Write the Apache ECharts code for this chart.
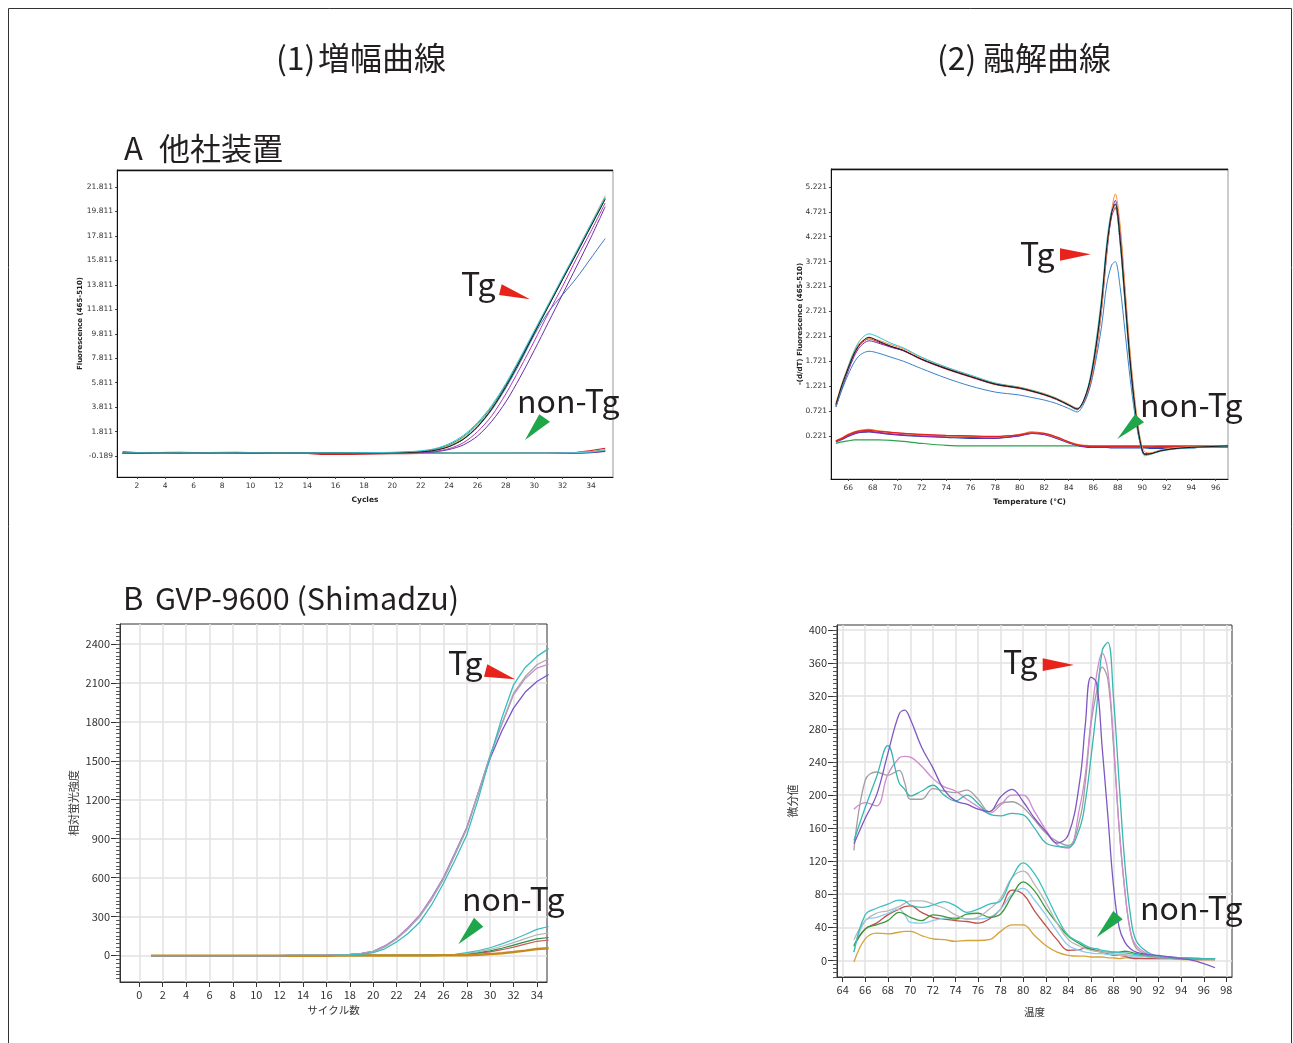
<!DOCTYPE html>
<html><head><meta charset="utf-8">
<script src="https://cdn.jsdelivr.net/npm/echarts@6/dist/echarts.min.js"></script>
<style>html,body{margin:0;padding:0;background:#fff}#c{width:1293px;height:1043px}</style>
</head><body><div id="c"></div>
<script>
// ---------- (1)-A amplification, other instrument ----------
const tlCycles = [1,2,3,4,5,6,7,8,9,10,11,12,13,14,15,16,17,18,19,20,21,22,23,24,25,26,27,28,29,30,31,32,33,34,35];
const tlXTicks = [2,4,6,8,10,12,14,16,18,20,22,24,26,28,30,32,34];
const tlYTicks = [-0.189,1.811,3.811,5.811,7.811,9.811,11.811,13.811,15.811,17.811,19.811,21.811];
const tlTgBlack   = [0.05,0.04,0.05,0.05,0.04,0.05,0.05,0.04,0.05,0.05,0.05,0.04,0.05,0.05,0.05,0.05,0.06,0.06,0.07,0.08,0.10,0.15,0.28,0.58,1.18,2.20,3.65,5.50,7.60,9.85,12.05,14.25,16.40,18.60,20.80];
const tlTgCyan    = [0.06,0.07,0.06,0.05,0.06,0.05,0.06,0.05,0.06,0.07,0.06,0.05,0.06,0.06,0.07,0.07,0.08,0.09,0.10,0.12,0.16,0.24,0.42,0.82,1.50,2.55,3.95,5.75,7.85,10.05,12.25,14.45,16.60,18.80,21.00];
const tlTgTeal    = [0.04,0.05,0.04,0.05,0.05,0.04,0.05,0.05,0.05,0.04,0.05,0.05,0.04,0.05,0.06,0.06,0.07,0.07,0.08,0.10,0.14,0.21,0.38,0.75,1.40,2.45,3.85,5.65,7.75,9.95,12.15,14.35,16.50,18.70,20.90];
const tlTgOrange  = [0.03,0.04,0.03,0.04,0.04,0.03,0.04,0.04,0.03,0.04,0.04,0.04,0.03,0.04,0.04,0.05,0.05,0.06,0.07,0.09,0.12,0.19,0.34,0.68,1.32,2.35,3.78,5.60,7.70,9.90,12.10,14.30,16.55,18.80,21.10];
const tlTgMagenta = [0.05,0.05,0.04,0.05,0.05,0.05,0.04,0.05,0.05,0.05,0.04,0.05,0.05,0.05,0.05,0.05,0.05,0.06,0.06,0.07,0.08,0.11,0.20,0.42,0.90,1.80,3.10,4.90,7.00,9.20,11.50,13.70,16.00,18.20,20.50];
const tlTgPurple  = [0.04,0.04,0.05,0.04,0.04,0.04,0.05,0.04,0.04,0.04,0.04,0.05,0.04,0.04,0.04,0.04,0.05,0.05,0.06,0.07,0.07,0.09,0.16,0.35,0.72,1.45,2.65,4.25,6.25,8.45,10.75,13.05,15.35,17.70,20.20];
const tlTgGreen   = [0.05,0.06,0.05,0.05,0.06,0.05,0.05,0.06,0.05,0.05,0.06,0.05,0.05,0.06,0.05,0.06,0.06,0.07,0.08,0.09,0.11,0.17,0.31,0.62,1.22,2.25,3.70,5.55,7.65,9.90,12.10,14.30,16.45,18.65,20.85];
const tlTgBlue    = [0.05,0.05,0.05,0.04,0.05,0.05,0.05,0.05,0.04,0.05,0.05,0.05,0.05,0.04,0.05,0.05,0.06,0.07,0.07,0.09,0.11,0.17,0.32,0.62,1.18,2.18,3.58,5.38,7.45,9.70,11.60,13.00,14.40,16.00,17.60];
const tlNonRed     = [0.02,0.03,0.02,0.02,0.03,0.02,0.02,0.03,0.02,0.02,0.02,0.03,0.02,0.02,-0.05,-0.06,-0.05,-0.04,-0.02,0.00,0.01,0.02,0.02,0.02,0.03,0.03,0.03,0.03,0.04,0.04,0.05,0.07,0.12,0.25,0.45];
const tlNonOrange  = [0.08,0.09,0.08,0.07,0.08,0.08,0.07,0.08,0.08,0.07,0.07,0.08,0.07,0.07,0.07,0.06,0.06,0.07,0.06,0.06,0.06,0.06,0.05,0.05,0.05,0.05,0.05,0.05,0.05,0.06,0.06,0.07,0.10,0.18,0.35];
const tlNonGreen   = [0.18,0.10,0.07,0.06,0.06,0.07,0.08,0.07,0.06,0.06,0.09,0.10,0.10,0.09,0.08,0.10,0.10,0.09,0.08,0.07,0.07,0.08,0.07,0.06,0.05,0.05,0.05,0.05,0.05,0.05,0.05,0.06,0.08,0.14,0.28];
const tlNonMagenta = [0.04,0.04,0.05,0.05,0.06,0.08,0.10,0.08,0.06,0.05,0.05,0.05,0.05,0.05,0.05,0.05,0.04,0.04,0.04,0.04,0.03,0.03,0.03,0.02,0.02,0.02,0.02,0.02,0.03,0.03,0.03,0.04,0.06,0.10,0.20];
const tlNonBlue    = [0.04,0.05,0.05,0.10,0.05,0.02,0.03,0.04,0.04,0.04,0.04,0.04,0.04,0.04,0.03,0.03,0.03,0.03,0.04,0.04,0.04,0.04,0.03,0.03,0.03,0.03,0.03,0.03,0.03,0.04,0.04,0.05,0.07,0.12,0.22];
const tlNonCyan    = [0.06,0.06,0.06,0.12,0.14,0.10,0.09,0.12,0.14,0.09,0.07,0.06,0.06,0.06,0.06,0.06,0.06,0.06,0.06,0.06,0.06,0.06,0.05,0.05,0.05,0.05,0.05,0.05,0.05,0.05,0.06,0.07,0.09,0.15,0.30];

// ---------- (2)-A melting, other instrument ----------
const trTemps  = [65,65.5,66,66.5,67,67.7,68.5,69.5,70.5,72,74,76,78,80,81,82,83,84,84.7,85.3,85.8,86.3,86.7,87.1,87.5,87.8,88.2,88.6,89,89.4,89.8,90.2,90.7,91.5,92.5,94,95,96,97];
const trXTicks = [66,68,70,72,74,76,78,80,82,84,86,88,90,92,94,96];
const trYTicks = [0.221,0.721,1.221,1.721,2.221,2.721,3.221,3.721,4.221,4.721,5.221];
const trTgBlack  = [0.85,1.25,1.58,1.88,2.08,2.20,2.12,2.02,1.94,1.76,1.57,1.41,1.26,1.18,1.12,1.05,0.96,0.84,0.76,0.98,1.40,2.15,2.95,4.00,4.70,4.88,4.15,2.95,1.75,0.80,0.15,-0.15,-0.14,-0.08,-0.04,-0.01,0.00,0.01,0.02];
const trTgOrange = [0.88,1.28,1.62,1.92,2.10,2.18,2.14,2.05,1.97,1.79,1.60,1.43,1.28,1.20,1.14,1.07,0.98,0.86,0.78,0.95,1.32,2.02,2.80,3.90,4.75,5.08,4.45,3.20,1.95,0.95,0.22,-0.10,-0.12,-0.06,-0.02,0.00,0.01,0.02,0.03];
const trTgCyan   = [0.82,1.22,1.60,1.93,2.15,2.27,2.20,2.08,1.99,1.80,1.60,1.44,1.28,1.19,1.13,1.06,0.97,0.83,0.74,0.99,1.45,2.25,3.05,4.10,4.75,4.82,4.05,2.85,1.65,0.72,0.10,-0.18,-0.15,-0.09,-0.05,-0.02,-0.01,0.00,0.01];
const trTgPurple = [0.80,1.18,1.52,1.82,2.02,2.13,2.08,2.00,1.93,1.76,1.58,1.42,1.27,1.19,1.13,1.06,0.97,0.85,0.77,0.93,1.30,2.00,2.80,3.85,4.70,4.95,4.35,3.10,1.85,0.88,0.18,-0.14,-0.13,-0.07,-0.03,-0.01,0.00,0.01,0.02];
const trTgRed    = [0.84,1.24,1.57,1.86,2.06,2.17,2.10,2.01,1.93,1.75,1.56,1.40,1.25,1.17,1.11,1.04,0.95,0.83,0.75,0.96,1.38,2.10,2.90,3.95,4.62,4.80,4.10,2.90,1.70,0.78,0.14,-0.15,-0.14,-0.08,-0.04,-0.01,0.00,0.01,0.02];
const trTgSteel  = [0.80,1.15,1.45,1.70,1.85,1.92,1.88,1.80,1.72,1.57,1.38,1.22,1.10,1.04,0.99,0.94,0.87,0.77,0.70,0.90,1.25,1.85,2.45,3.25,3.65,3.72,3.20,2.30,1.40,0.65,0.10,-0.14,-0.13,-0.08,-0.04,-0.01,0.00,0.01,0.02];
const trNonRed    = [0.12,0.17,0.24,0.29,0.32,0.33,0.31,0.29,0.27,0.25,0.23,0.22,0.21,0.24,0.28,0.27,0.20,0.10,0.04,0.02,0.01,0.01,0.01,0.01,0.01,0.01,0.01,0.01,0.01,0.01,0.01,0.00,0.00,0.01,0.01,0.01,0.01,0.01,0.01];
const trNonBlue   = [0.10,0.15,0.21,0.26,0.29,0.30,0.28,0.25,0.23,0.21,0.19,0.17,0.17,0.22,0.27,0.25,0.17,0.08,0.03,0.00,-0.01,-0.01,-0.01,-0.01,-0.02,-0.02,-0.02,-0.02,-0.02,-0.02,-0.02,-0.02,-0.03,-0.03,-0.02,-0.02,0.00,0.00,0.00];
const trNonPurple = [0.11,0.16,0.22,0.27,0.30,0.31,0.29,0.26,0.24,0.22,0.20,0.19,0.18,0.23,0.27,0.25,0.18,0.09,0.03,0.01,0.00,0.00,0.00,0.00,0.00,0.00,0.00,0.00,0.00,0.00,0.00,-0.01,-0.01,-0.01,0.00,0.00,0.00,0.00,0.00];
const trNonOrange = [0.12,0.18,0.25,0.30,0.33,0.35,0.32,0.29,0.27,0.24,0.22,0.21,0.20,0.25,0.30,0.27,0.19,0.10,0.05,0.03,0.02,0.02,0.02,0.02,0.02,0.02,0.02,0.02,0.02,0.02,0.02,0.02,0.02,0.02,0.02,0.02,0.02,0.02,0.02];
const trNonGreen  = [0.07,0.10,0.12,0.14,0.14,0.14,0.14,0.13,0.11,0.07,0.03,0.02,0.02,0.02,0.02,0.02,0.02,0.02,0.02,0.02,0.02,0.02,0.02,0.02,0.02,0.02,0.02,0.02,0.02,0.02,0.02,0.02,0.02,0.02,0.02,0.02,0.02,0.02,0.02];

// ---------- (1)-B amplification, GVP-9600 ----------
const blCycles = [1,2,3,4,5,6,7,8,9,10,11,12,13,14,15,16,17,18,19,20,21,22,23,24,25,26,27,28,29,30,31,32,33,34,35];
const blXTicks = [0,2,4,6,8,10,12,14,16,18,20,22,24,26,28,30,32,34];
const blYTicks = [0,300,600,900,1200,1500,1800,2100,2400];
const blTgCyan   = [-2,-2,-2,-2,-2,-2,-2,-2,-2,-2,-2,-2,-1,-1,-1,0,1,3,8,20,50,103,170,257,390,554,735,927,1210,1530,1830,2086,2220,2305,2365];
const blTgGray   = [-2,-2,-2,-2,-2,-2,-2,-2,-2,-2,-2,-2,-1,-1,0,1,3,6,13,28,65,125,205,300,430,585,775,975,1255,1540,1785,2022,2150,2241,2287];
const blTgPink   = [-2,-2,-2,-2,-2,-2,-2,-2,-2,-2,-2,-2,-1,-1,0,1,3,7,14,30,70,130,212,309,440,593,785,979,1262,1545,1780,2009,2135,2215,2245];
const blTgPurple = [-2,-2,-2,-2,-2,-2,-2,-2,-2,-2,-2,-2,-1,-1,0,1,3,7,15,31,72,132,215,312,445,597,790,985,1255,1520,1730,1906,2030,2112,2166];
const blNonCyan  = [-2,-2,-2,-2,-2,-2,-2,-2,-2,-2,-2,-2,-2,-2,-2,-2,-1,-1,-1,0,0,0,1,1,2,4,8,20,37,58,88,122,160,200,222];
const blNonGray  = [-2,-2,-2,-2,-2,-2,-2,-2,-2,-2,-2,-2,-2,-2,-2,-2,-1,-1,-1,0,0,0,0,1,1,2,5,14,28,45,70,98,128,158,172];
const blNonGreen = [-2,-2,-2,-2,-2,-2,-2,-2,-2,-2,-2,-2,-2,-2,-2,-2,-1,-1,-1,0,0,0,0,0,1,1,3,10,20,34,54,78,103,126,137];
const blNonRed   = [-2,-2,-2,-2,-2,-2,-2,-2,-2,-2,-2,-2,-2,-2,-2,-2,-1,-1,-1,0,0,0,0,0,1,1,3,8,16,27,43,63,86,108,118];
const blNonGold  = [-3,-3,-3,-3,-3,-3,-3,-3,-3,-3,-3,-3,-3,-3,-3,-3,-2,-2,-2,-2,-2,-1,-1,-1,-1,0,0,1,4,9,16,25,36,48,54];

// ---------- (2)-B melting, GVP-9600 ----------
const brTemps  = [65,66,67,68,69,69.5,70,71,72,73,74,75,76,77,78,79,80,81,82,83,84,85,85.5,86,86.5,87,87.5,88,88.5,89,89.5,90,91,92,93,94,95,96,97];
const brXTicks = [64,66,68,70,72,74,76,78,80,82,84,86,88,90,92,94,96,98];
const brYTicks = [0,40,80,120,160,200,240,280,320,360,400];
const brTgPurple = [141,172,200,250,298,303,292,258,233,206,193,189,183,180,198,207,192,172,156,142,152,216,285,343,336,257,175,90,40,22,14,10,7,6,4,2,0,-4,-9];
const brTgTeal   = [145,185,222,260,215,207,199,205,212,200,193,200,190,177,175,178,176,160,142,138,137,160,192,245,305,375,385,318,215,118,55,24,10,5,3,3,2,2,2];
const brTgPink   = [183,191,187,225,245,247,246,235,220,210,205,195,186,178,188,200,200,180,158,140,136,185,225,290,345,372,350,265,160,85,35,18,8,5,4,3,2,2,2];
const brTgGray   = [133,218,228,224,230,215,195,195,208,205,203,206,195,180,190,192,185,170,154,144,139,170,215,285,325,355,340,260,160,85,35,15,7,4,3,2,2,2,1];
const brNonCyan  = [10,55,63,68,73,72,67,64,67,71,66,58,62,68,72,100,118,105,80,52,30,22,18,15,14,12,11,10,9,9,8,7,5,4,4,3,3,2,2];
const brNonGray  = [25,48,57,60,65,69,72,72,68,63,55,50,52,62,75,100,108,92,70,45,25,17,14,12,11,10,9,8,7,7,6,6,5,4,3,3,2,2,2];
const brNonLBlue = [10,48,52,57,62,55,46,45,48,51,52,50,50,52,62,80,87,73,55,35,18,12,10,9,8,8,7,7,6,6,5,5,4,3,3,2,2,2,1];
const brNonRed   = [17,38,45,55,62,65,66,58,52,50,48,47,45,50,62,85,80,60,42,25,12,13,15,14,12,10,8,6,6,5,3,2,2,2,2,2,1,1,1];
const brNonGreen = [18,38,43,48,58,56,52,48,55,53,50,56,57,52,56,78,95,84,63,45,29,20,16,13,11,10,10,10,10,11,10,8,6,4,3,3,2,2,2];
const brNonGold  = [-2,26,33,32,34,35,35,30,26,25,23,24,24,25,35,43,43,30,18,10,6,5,5,4,4,4,3,3,2,3,3,3,2,2,2,1,1,1,1];

// ---------- helpers ----------
function pts(xs, ys){ return xs.map((x,i)=>[x, ys[i]]); }
function line(grid, xs, ys, color, width, smooth){
  return {type:'line', xAxisIndex:grid, yAxisIndex:grid, data:pts(xs,ys), symbol:'none', showSymbol:false,
    smooth: smooth||false, lineStyle:{color:color, width:width||1}, itemStyle:{color:color},
    silent:true, animation:false, emphasis:{disabled:true}};
}
function minorVals(a, b, step){ const r=[]; for(let v=a; v<=b+1e-9; v+=step) r.push(Math.round(v*1000)/1000); return r; }

const fTop = 'DejaVu Sans';
const fBot = '"Noto Sans CJK JP", "Noto Sans", sans-serif';
const fJP = '"Noto Sans CJK JP"';
const darkTxt = '#231f20';

function topX(grid, min, max, ticks, name){
  return {gridIndex:grid, type:'value', min:min, max:max,
    axisLine:{onZero:false, lineStyle:{color:'#111', width:1}},
    axisTick:{show:true, customValues:ticks, length:2, lineStyle:{color:'#444'}},
    axisLabel:{customValues:ticks, fontSize:7.5, color:'#333', margin:5, fontFamily:fTop, formatter:v=>String(v)},
    splitLine:{show:false},
    name:name, nameLocation:'middle', nameGap:19, nameMoveOverlap:false,
    nameTextStyle:{fontSize:7.5, fontWeight:'bold', color:'#222', fontFamily:fTop}};
}
function topY(grid, min, max, ticks, name, gap){
  return {gridIndex:grid, type:'value', min:min, max:max,
    axisLine:{onZero:false, show:true, lineStyle:{color:'#111', width:1}},
    axisTick:{show:true, customValues:ticks, length:2, lineStyle:{color:'#444'}},
    axisLabel:{customValues:ticks, fontSize:7.5, color:'#333', margin:4, fontFamily:fTop, formatter:v=>v.toFixed(3)},
    splitLine:{show:false},
    name:name, nameLocation:'middle', nameGap:gap, nameRotate:90, nameMoveOverlap:false,
    nameTextStyle:{fontSize:7, fontWeight:'bold', color:'#222', fontFamily:fTop}};
}
function botX(grid, min, max, ticks, name, gap){
  return {gridIndex:grid, type:'value', min:min, max:max,
    axisLine:{onZero:false, lineStyle:{color:'#333', width:1}},
    axisTick:{show:true, customValues:ticks, length:5, lineStyle:{color:'#333'}},
    axisLabel:{customValues:ticks, fontSize:11, color:'#333', margin:7, fontFamily:fBot, formatter:v=>String(v)},
    splitLine:{show:true, lineStyle:{color:'#e2e2e2', width:1.5}},
    name:name, nameLocation:'middle', nameGap:gap, nameMoveOverlap:false,
    nameTextStyle:{fontSize:10.5, color:'#333', fontFamily:fJP}};
}
function botY(grid, min, max, ticks, name, gap){
  return {gridIndex:grid, type:'value', min:min, max:max,
    axisLine:{onZero:false, show:true, lineStyle:{color:'#333', width:1}},
    axisTick:{show:true, customValues:ticks, length:9, lineStyle:{color:'#333'}},
    axisLabel:{customValues:ticks, fontSize:11, color:'#333', margin:10, fontFamily:fBot, formatter:v=>String(v), verticalAlign:'middle', padding:[0,0,3,0]},
    splitLine:{show:true, lineStyle:{color:'#e2e2e2', width:1.5}},
    name:name, nameLocation:'middle', nameGap:gap, nameRotate:90, nameMoveOverlap:false,
    nameTextStyle:{fontSize:11, color:'#333', fontFamily:fJP}};
}
function minorY(grid, min, max, vals){
  return {gridIndex:grid, type:'value', min:min, max:max, position:'left',
    axisLine:{show:false, onZero:false}, axisLabel:{show:false}, splitLine:{show:false},
    axisTick:{show:true, customValues:vals, length:4, lineStyle:{color:'#555'}}};
}

const series = [];
// TL
[[tlNonRed,'#d42020'],[tlNonOrange,'#f29a3a'],[tlNonGreen,'#2ea04e'],[tlNonMagenta,'#b02a86'],[tlNonBlue,'#2a4fc0'],[tlNonCyan,'#5cc6d6']]
  .forEach(a=>series.push(line(0, tlCycles, a[0], a[1], 1.2)));
[[tlTgBlue,'#3a78c4'],[tlTgPurple,'#6a2ca8'],[tlTgMagenta,'#b43cb0'],[tlTgGreen,'#2e9e62'],[tlTgOrange,'#f0a24a'],[tlTgTeal,'#1f9c92'],[tlTgBlack,'#1a1a1a'],[tlTgCyan,'#3cc4d4']]
  .forEach(a=>series.push(line(0, tlCycles, a[0], a[1], 1, 0.3)));
// TR
[[trNonGreen,'#2aa34a'],[trNonBlue,'#2340c0'],[trNonPurple,'#a02aa0'],[trNonOrange,'#f07822'],[trNonRed,'#e02424']]
  .forEach(a=>series.push(line(1, trTemps, a[0], a[1], 1.2, 0.3)));
[[trTgSteel,'#3a82c8'],[trTgRed,'#d02030'],[trTgPurple,'#7a2aa8'],[trTgOrange,'#f39448'],[trTgCyan,'#36c2c8'],[trTgBlack,'#151515']]
  .forEach(a=>series.push(line(1, trTemps, a[0], a[1], 1, 0.3)));
// BL
[[blNonRed,'#cc5a5a',1.2],[blNonGreen,'#2f8f46',1.2],[blNonGray,'#b4b4b4',1.2],[blNonCyan,'#3cbcc0',1.2],[blNonGold,'#c48a1c',2.5]]
  .forEach(a=>series.push(line(2, blCycles, a[0], a[1], a[2])));
[[blTgPurple,'#7b55c9'],[blTgPink,'#c98ad6'],[blTgGray,'#a8a8a8'],[blTgCyan,'#3bbcc0']]
  .forEach(a=>series.push(line(2, blCycles, a[0], a[1], 1.3)));
// BR
[[brNonGold,'#d4a33a'],[brNonRed,'#c0504d'],[brNonLBlue,'#8ccaf2'],[brNonGreen,'#3a9a3a'],[brNonGray,'#b8b8b8'],[brNonCyan,'#3cc0c0']]
  .forEach(a=>series.push(line(3, brTemps, a[0], a[1], 1.3, 0.4)));
[[brTgGray,'#a0a0a0'],[brTgPink,'#d08ad0'],[brTgTeal,'#3ab7b0'],[brTgPurple,'#7e57c2']]
  .forEach(a=>series.push(line(3, brTemps, a[0], a[1], 1.3, 0.4)));

function txt(x, y, s, size, align){
  return {type:'text', x:x, y:y, z:100, style:{text:s, font:size+'px '+fJP, fill:darkTxt, textAlign:align||'left', textVerticalAlign:'middle'}};
}
function tri(p, color){ return {type:'polygon', z:100, shape:{points:p}, style:{fill:color}}; }
const RED = '#e8231c', GRN = '#1fa64a';

const option = {
  backgroundColor:'#fff',
  animation:false,
  grid:[
    {left:117, top:170, width:496, height:307, show:true, borderColor:'#999', borderWidth:1, outerBoundsMode:'none'},
    {left:831, top:169, width:397, height:310, show:true, borderColor:'#999', borderWidth:1, outerBoundsMode:'none'},
    {left:120, top:624, width:427, height:358, show:true, borderColor:'#333', borderWidth:1, outerBoundsMode:'none'},
    {left:837, top:625, width:395, height:352, show:true, borderColor:'#333', borderWidth:1, outerBoundsMode:'none'}
  ],
  xAxis:[
    topX(0, 0.6, 35.55, tlXTicks, 'Cycles'),
    topX(1, 64.6, 97.0, trXTicks, 'Temperature (°C)'),
    botX(2, -1.65, 34.86, blXTicks, 'サイクル数', 23),
    botX(3, 63.5, 98.5, brXTicks, '温度', 30)
  ],
  yAxis:[
    topY(0, -1.9, 23.2, tlYTicks, 'Fluorescence (465-510)', 33),
    topY(1, -0.646, 5.58, trYTicks, '-(d/dT) Fluorescence (465-510)', 27),
    botY(2, -206, 2555, blYTicks, '相対蛍光強度', 41),
    botY(3, -20.2, 406, brYTicks, '微分値', 39),
    minorY(2, -206, 2555, minorVals(-180, 2550, 30)),
    minorY(3, -20.2, 406, minorVals(-20, 405, 5))
  ],
  series: series,
  graphic:[
    {type:'rect', z:100, shape:{x:8.5, y:8.5, width:1283, height:1060}, style:{fill:'none', stroke:'#333', lineWidth:1}},
    {type:'line', z:100, shape:{x1:117, y1:170.5, x2:613, y2:170.5}, style:{stroke:'#111', lineWidth:1.5}},
    {type:'line', z:100, shape:{x1:831, y1:169.5, x2:1228, y2:169.5}, style:{stroke:'#111', lineWidth:1.5}},
    txt(276, 58, '(1)', 32), txt(318, 58, '増幅曲線', 32),
    txt(937, 58, '(2)', 32), txt(983, 58, '融解曲線', 32),
    txt(124, 148, 'A', 31), txt(159, 148, '他社装置', 31),
    txt(123, 598, 'B', 31), txt(155, 598, 'GVP-9600 (Shimadzu)', 30.5),
    txt(461, 284, 'Tg', 32), txt(517, 401, 'non-Tg', 32),
    txt(1020, 254, 'Tg', 32), txt(1140, 405, 'non-Tg', 32),
    txt(448, 663, 'Tg', 32), txt(462, 899, 'non-Tg', 32),
    txt(1003, 662, 'Tg', 32), txt(1140, 908, 'non-Tg', 32),
    tri([[501.7,284.3],[499,295],[530,299.3]], RED),
    tri([[539.3,414.3],[550,421.7],[525,440]], GRN),
    tri([[1060,248.3],[1060,260.7],[1090.7,254.3]], RED),
    tri([[1135,414.3],[1144,422.3],[1117.3,439]], GRN),
    tri([[487.3,664.3],[484,676.7],[515,679.3]], RED),
    tri([[474,917.7],[483.3,926.7],[458.3,944.3]], GRN),
    tri([[1042.7,658.3],[1042.7,671],[1074,665]], RED),
    tri([[1113.3,911],[1122.7,919.3],[1096.7,937.3]], GRN)
  ]
};
const chart = echarts.init(document.getElementById('c'), null, {renderer:'canvas'});
chart.setOption(option);
</script></body></html>
